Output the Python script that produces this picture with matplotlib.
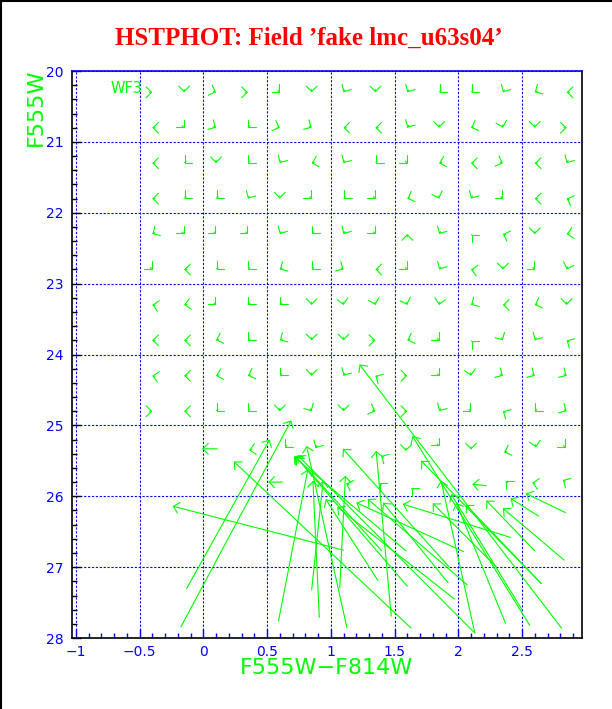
import matplotlib
matplotlib.use('Agg')
import matplotlib.pyplot as plt
import numpy as np
from matplotlib.lines import Line2D
from matplotlib.ticker import MultipleLocator, FuncFormatter

GREEN = '#00ff00'
BLUE = '#0000ff'

# fake star grid: colour columns and magnitude rows
cols = [-0.4, -0.15, 0.1, 0.35, 0.6, 0.85, 1.1, 1.35, 1.6, 1.85, 2.1, 2.35, 2.6, 2.85]
rows = [20.3, 20.8, 21.3, 21.8, 22.3, 22.8, 23.3, 23.8, 24.3, 24.8]

# direction of each tiny arrow (screen degrees, 0 = right, 90 = up)
angles = [
    [0, -90, -20, 0, -45, -90, -120, -90, -120, -135, -135, -120, -150, 180],
    [180, -45, -30, -135, -20, -30, 180, 180, -120, -90, -160, -75, -90, 0],
    [180, -135, -90, -135, -120, -165, -120, -135, -45, -165, 180, -20, 180, -120],
    [180, -135, -135, -120, -90, -45, -135, -45, -160, -70, -120, -45, 180, 160],
    [-150, -45, -45, -45, -120, -135, -120, -45, 90, -120, 135, 160, -90, -170],
    [-45, 180, -135, -135, -150, -135, -30, 180, -45, -120, 170, -90, -45, -110],
    [170, -170, -45, -135, -135, -90, -80, -75, -70, -100, -150, 180, -160, -90],
    [180, 180, -160, -135, -150, -90, -90, 0, -160, -45, 135, -60, -120, 150],
    [170, 180, -165, -160, -135, -90, -120, 150, 0, -45, -80, -30, -30, -30],
    [0, 180, -135, -135, -90, -60, -90, -20, 0, -120, -45, 150, -135, -30],
]

# tiny arrows in the two faintest rows
low_x = [0.36, 0.64, 0.88, 1.59, 1.85, 2.10, 2.36, 2.61, 2.84, 1.395,
         1.12, 1.38, 1.63, 2.37, 2.58, 2.82]
low_y = [25.35, 25.31, 25.32, 25.36, 25.29, 25.34, 25.38, 25.31, 25.31, 25.43,
         25.82, 25.81, 25.88, 25.78, 25.81, 25.77]
low_a = [-170, -135, -120, -90, -45, -90, -160, -80, -45, 150,
         160, 135, 135, 135, 170, 150]

# long arrows: recovered position (head) and input position (tail)
head_x = [0.69, 0.52, -0.24, 0.24, -0.01, 0.51, 0.81, 0.82, 0.86, 0.94,
          1.115, 0.72, 0.73, 0.74, 0.71, 0.96, 1.05, 1.356, 1.225, 1.20,
          1.29, 1.41, 1.565, 1.80, 1.64, 1.709, 1.865, 1.944, 1.983, 2.06,
          2.22, 2.35, 2.41, 2.53, 2.11, 1.095]
head_y = [24.93, 25.20, 26.14, 25.51, 25.33, 25.80, 25.29, 25.62, 25.78, 25.78,
          25.71, 25.43, 25.45, 25.42, 25.44, 26.04, 26.15, 25.36, 24.14, 26.09,
          26.04, 26.09, 26.11, 26.10, 25.15, 25.50, 25.78, 25.97, 26.09, 26.12,
          26.06, 26.17, 26.03, 25.96, 25.83, 25.33]
tail_x = [-0.175, -0.13, 1.10, 1.63, 0.11, 0.62, 1.126, 0.59, 0.91, 0.85,
          1.07, 1.40, 1.60, 2.13, 1.59, 1.37, 1.97, 1.474, 2.81, 2.04,
          2.07, 1.92, 2.41, 2.30, 2.56, 2.65, 2.13, 2.50, 2.37, 2.65,
          2.60, 2.83, 2.63, 2.84, 2.22, 1.93]
tail_y = [27.84, 27.30, 26.76, 27.86, 25.33, 25.80, 27.85, 27.76, 27.71, 27.32,
          27.29, 26.77, 27.27, 27.93, 26.77, 27.19, 27.45, 27.69, 27.86, 26.78,
          27.25, 27.22, 26.58, 27.00, 27.82, 27.23, 27.93, 27.60, 27.79, 27.23,
          26.77, 26.90, 26.28, 26.23, 25.85, 27.00]

ARROW = dict(arrowstyle='->,head_length=0.3,head_width=0.3', color=GREEN,
             lw=0.8, shrinkA=0, shrinkB=0, mutation_scale=13)


def tiny_arrow(ax, x, y, ang):
    a = np.deg2rad(ang)
    ax.annotate('', xy=(x, y), xytext=(-2.0 * np.cos(a), -2.0 * np.sin(a)),
                textcoords='offset points', arrowprops=ARROW)


fig = plt.figure(figsize=(6.12, 7.09), dpi=100)
ax = fig.add_axes([0.1176, 0.1001, 0.8333, 0.7997])

ax.set_xlim(-1.03, 2.97)
ax.set_ylim(28, 20)

for r, y in enumerate(rows):
    for c, x in enumerate(cols):
        tiny_arrow(ax, x, y, angles[r][c])
for x, y, a in zip(low_x, low_y, low_a):
    tiny_arrow(ax, x, y, a)
for hx, hy, tx, ty in zip(head_x, head_y, tail_x, tail_y):
    ax.annotate('', xy=(hx, hy), xytext=(tx, ty), arrowprops=ARROW)

ax.text(-0.73, 20.25, 'WF3', color=GREEN, fontsize=10.5, va='center')

# ticks and grid
ax.xaxis.set_major_locator(MultipleLocator(0.5))
ax.xaxis.set_minor_locator(MultipleLocator(0.1))
ax.xaxis.set_major_formatter(FuncFormatter(lambda v, _: ('%g' % v).replace('-', '\u2212')))
ax.yaxis.set_major_locator(MultipleLocator(1))
ax.yaxis.set_minor_locator(MultipleLocator(0.2))
ax.tick_params(axis='x', which='both', direction='in', color=BLUE,
               labelcolor=BLUE, labelsize=10, pad=5)
ax.tick_params(axis='x', which='major', length=6.5, width=1)
ax.tick_params(axis='x', which='minor', length=3.6, width=1)
ax.tick_params(axis='y', which='both', direction='in', color='black',
               labelcolor=BLUE, labelsize=10, pad=6)
ax.tick_params(axis='y', which='major', length=6.5, width=1)
ax.tick_params(axis='y', which='minor', length=3.6, width=1)
ax.grid(True, which='major', color=BLUE, linestyle=(0, (2, 1.5)), linewidth=0.8)
ax.set_axisbelow(True)

for s in ['left', 'bottom', 'right']:
    ax.spines[s].set_color('black')
    ax.spines[s].set_linewidth(1.2)
ax.spines['top'].set_color(BLUE)
ax.spines['top'].set_linewidth(1.2)

ax.set_xlabel('F555W\u2212F814W', color=GREEN, fontsize=16, labelpad=-1)
ax.set_ylabel('F555W', color=GREEN, fontsize=16, loc='top')
ax.yaxis.set_label_coords(-0.051, 1.005)

fig.text(0.505, 0.946, 'HSTPHOT: Field \u2019fake lmc_u63s04\u2019', color='red',
         fontsize=18, fontweight='bold', family='Liberation Serif',
         ha='center', va='center')

# frame on the left and top edge of the picture
fig.add_artist(Line2D([0.0015, 0.0015], [0, 1], color='black', lw=1.5,
                      transform=fig.transFigure))
fig.add_artist(Line2D([0, 1], [0.999, 0.999], color='black', lw=1.5,
                      transform=fig.transFigure))

fig.savefig('out.png', dpi=100)
